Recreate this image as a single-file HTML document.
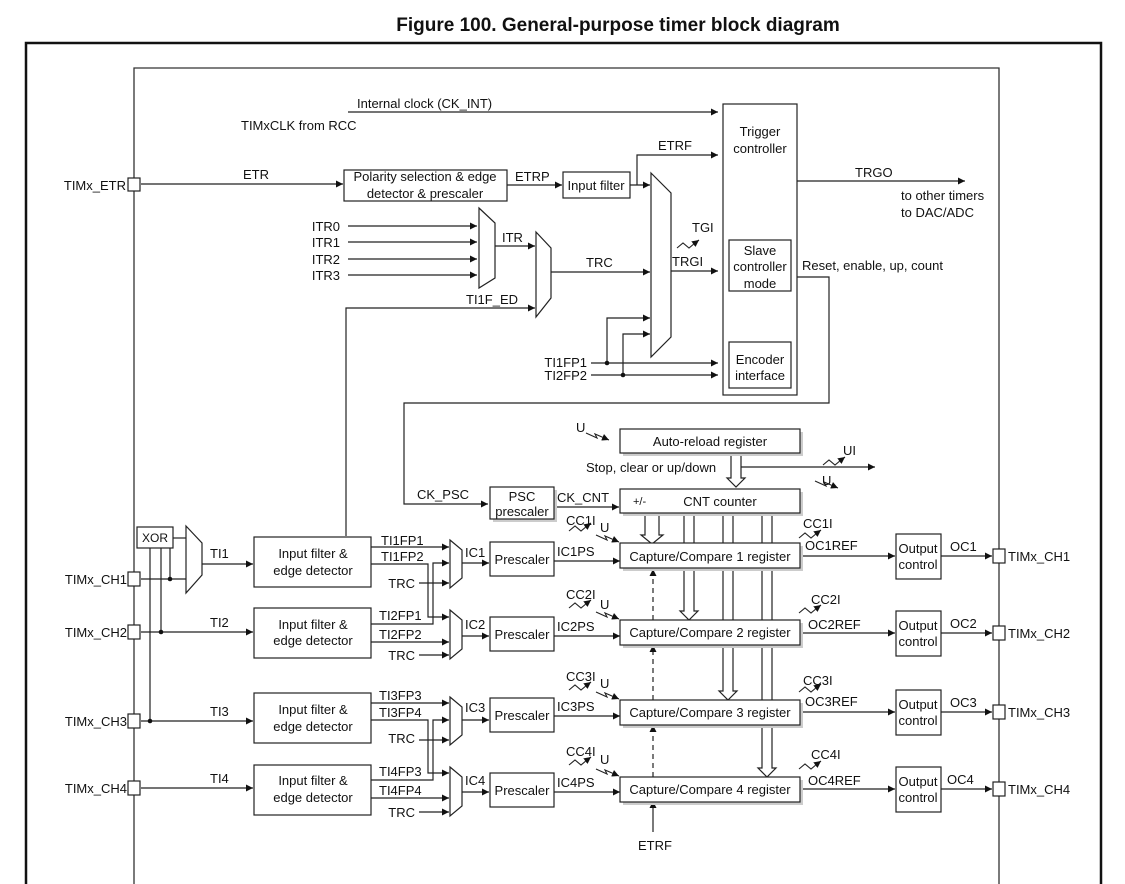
<!DOCTYPE html>
<html><head><meta charset="utf-8"><style>
html,body{margin:0;padding:0;background:#fff;}
svg{display:block;}
text{font-family:"Liberation Sans",Arial,sans-serif;font-size:13px;fill:#111;}
</style></head><body>
<svg width="1125" height="884" viewBox="0 0 1125 884" xmlns="http://www.w3.org/2000/svg">
<defs>
<marker id="a" viewBox="0 0 10 10" refX="10" refY="5" markerWidth="7" markerHeight="7" markerUnits="userSpaceOnUse" orient="auto"><path d="M0,0 L10,5 L0,10 z" fill="#111"/></marker>
</defs>
<text x="618" y="31" text-anchor="middle" style="font-size:19px;font-weight:bold">Figure 100. General-purpose timer block diagram</text>
<rect x="26" y="43" width="1075" height="860" fill="none" stroke="#111" stroke-width="2.5"/>
<g stroke="#333" stroke-width="1.3" fill="none">
<path d="M134 900 V68 H999 V900"/>
</g>
<g stroke="#222" stroke-width="1.2" fill="none">
<path d="M348 112 H718" marker-end="url(#a)"/>
<path d="M141 184 H343" marker-end="url(#a)"/>
<path d="M507 185 H562" marker-end="url(#a)"/>
<path d="M630 185 H650" marker-end="url(#a)"/>
<path d="M637 185 V155 H718" marker-end="url(#a)"/>
<path d="M348 226 H477" marker-end="url(#a)"/>
<path d="M348 242 H477" marker-end="url(#a)"/>
<path d="M348 259 H477" marker-end="url(#a)"/>
<path d="M348 275 H477" marker-end="url(#a)"/>
<path d="M495 246 H535" marker-end="url(#a)"/>
<path d="M346 536 V308 H535" marker-end="url(#a)"/>
<path d="M551 272 H650" marker-end="url(#a)"/>
<path d="M671 271 H718" marker-end="url(#a)"/>
<path d="M591 363 H718" marker-end="url(#a)"/>
<path d="M591 375 H718" marker-end="url(#a)"/>
<path d="M607 363 V318 H650" marker-end="url(#a)"/>
<path d="M623 375 V334 H650" marker-end="url(#a)"/>
<path d="M797 181 H965" marker-end="url(#a)"/>
<path d="M797 277 H829 V403 H404 V504 H488" marker-end="url(#a)"/>
<path d="M141 579 H186"/>
<path d="M170 579 V548"/>
<path d="M173 538 H186"/>
<path d="M161 548 V632"/>
<path d="M150 548 V721"/>
<path d="M202 564 H253" marker-end="url(#a)"/>
<path d="M141 632 H253" marker-end="url(#a)"/>
<path d="M141 721 H253" marker-end="url(#a)"/>
<path d="M141 788 H253" marker-end="url(#a)"/>
<path d="M371 547 H449" marker-end="url(#a)"/>
<path d="M371 564 H428 V617 H449" marker-end="url(#a)"/>
<path d="M371 624 H433 V563 H449" marker-end="url(#a)"/>
<path d="M419 583 H449" marker-end="url(#a)"/>
<path d="M371 642 H449" marker-end="url(#a)"/>
<path d="M419 655 H449" marker-end="url(#a)"/>
<path d="M371 703 H449" marker-end="url(#a)"/>
<path d="M371 720 H428 V773 H449" marker-end="url(#a)"/>
<path d="M371 780 H433 V720 H449" marker-end="url(#a)"/>
<path d="M419 740 H449" marker-end="url(#a)"/>
<path d="M371 798 H449" marker-end="url(#a)"/>
<path d="M419 812 H449" marker-end="url(#a)"/>
<path d="M462 563 H489" marker-end="url(#a)"/>
<path d="M462 636 H489" marker-end="url(#a)"/>
<path d="M462 720 H489" marker-end="url(#a)"/>
<path d="M462 792 H489" marker-end="url(#a)"/>
<path d="M554 561 H620" marker-end="url(#a)"/>
<path d="M554 636 H620" marker-end="url(#a)"/>
<path d="M554 716 H620" marker-end="url(#a)"/>
<path d="M554 792 H620" marker-end="url(#a)"/>
<path d="M554 507 H619" marker-end="url(#a)"/>
<path d="M741 467 H875" marker-end="url(#a)"/>
<path d="M800 556 H895" marker-end="url(#a)"/>
<path d="M800 633 H895" marker-end="url(#a)"/>
<path d="M800 712 H895" marker-end="url(#a)"/>
<path d="M800 789 H895" marker-end="url(#a)"/>
<path d="M941 556 H992" marker-end="url(#a)"/>
<path d="M941 633 H992" marker-end="url(#a)"/>
<path d="M941 712 H992" marker-end="url(#a)"/>
<path d="M941 789 H992" marker-end="url(#a)"/>
<path d="M653 832 V801" marker-end="url(#a)"/>
<path d="M653 777 V725" stroke-dasharray="5,4" marker-end="url(#a)"/>
<path d="M653 700 V645" stroke-dasharray="5,4" marker-end="url(#a)"/>
<path d="M653 620 V569" stroke-dasharray="5,4" marker-end="url(#a)"/>
</g>
<g fill="#111">
<circle cx="607" cy="363" r="2.3"/><circle cx="623" cy="375" r="2.3"/>
<circle cx="170" cy="579" r="2.3"/><circle cx="161" cy="632" r="2.3"/><circle cx="150" cy="721" r="2.3"/>
</g>
<g stroke="#222" stroke-width="1.2" fill="#fff">
<path d="M731 453 V478 H727 L736 487 L745 478 H741 V453"/>
<path d="M645 513 V535 H641 L652 544 L663 535 H659 V513"/>
<path d="M684 513 V611 H680 L689 620 L698 611 H694 V513"/>
<path d="M723 513 V691 H719 L728 700 L737 691 H733 V513"/>
<path d="M762 513 V768 H758 L767 777 L776 768 H772 V513"/>
</g>
<g stroke="#222" stroke-width="1.2" fill="#fff">
<rect x="128" y="178" width="12" height="13"/>
<rect x="128" y="572" width="12" height="14"/>
<rect x="128" y="625" width="12" height="14"/>
<rect x="128" y="714" width="12" height="14"/>
<rect x="128" y="781" width="12" height="14"/>
<rect x="993" y="549" width="12" height="14"/>
<rect x="993" y="626" width="12" height="14"/>
<rect x="993" y="705" width="12" height="14"/>
<rect x="993" y="782" width="12" height="14"/>
<rect x="344" y="170" width="163" height="31"/>
<rect x="563" y="172" width="67" height="26"/>
<rect x="723" y="104" width="74" height="291"/>
<rect x="729" y="240" width="62" height="51"/>
<rect x="729" y="342" width="62" height="46"/>
<polygon points="479,208 495,223 495,278 479,288"/>
<polygon points="536,232 551,248 551,298 536,317"/>
<polygon points="651,173 671,193 671,337 651,357"/>
<rect x="137" y="527" width="36" height="21"/>
<polygon points="186,526 202,543 202,575 186,593"/>
<rect x="254" y="537" width="117" height="50"/>
<rect x="254" y="608" width="117" height="50"/>
<rect x="254" y="693" width="117" height="50"/>
<rect x="254" y="765" width="117" height="50"/>
<polygon points="450,540 462,550 462,578 450,588"/>
<polygon points="450,610 462,620 462,649 450,659"/>
<polygon points="450,697 462,707 462,735 450,745"/>
<polygon points="450,767 462,777 462,806 450,816"/>
<rect x="490" y="542" width="64" height="34"/>
<rect x="490" y="617" width="64" height="34"/>
<rect x="490" y="698" width="64" height="34"/>
<rect x="490" y="773" width="64" height="34"/>
<rect x="896" y="534" width="45" height="45"/>
<rect x="896" y="611" width="45" height="45"/>
<rect x="896" y="690" width="45" height="45"/>
<rect x="896" y="767" width="45" height="45"/>
</g>
<g fill="#ccc">
<rect x="493" y="490" width="64" height="32"/>
<rect x="623" y="432" width="180" height="24"/>
<rect x="623" y="492" width="180" height="24"/>
<rect x="623" y="546" width="180" height="25"/>
<rect x="623" y="623" width="180" height="25"/>
<rect x="623" y="703" width="180" height="25"/>
<rect x="623" y="780" width="180" height="25"/>
</g>
<g stroke="#222" stroke-width="1.2" fill="#fff">
<rect x="490" y="487" width="64" height="32"/>
<rect x="620" y="429" width="180" height="24"/>
<rect x="620" y="489" width="180" height="24"/>
<rect x="620" y="543" width="180" height="25"/>
<rect x="620" y="620" width="180" height="25"/>
<rect x="620" y="700" width="180" height="25"/>
<rect x="620" y="777" width="180" height="25"/>
</g>
<g stroke="#222" stroke-width="1.1" fill="none">
<path d="M677 248 l6 -5 l6 5 l6 -5 l4 -3" marker-end="url(#a)"/>
<path d="M823 465 l6 -5 l6 5 l6 -5 l4 -3" marker-end="url(#a)"/>
<path d="M569 531 l6 -5 l6 5 l6 -5 l4 -3" marker-end="url(#a)"/>
<path d="M569 608 l6 -5 l6 5 l6 -5 l4 -3" marker-end="url(#a)"/>
<path d="M569 690 l6 -5 l6 5 l6 -5 l4 -3" marker-end="url(#a)"/>
<path d="M569 765 l6 -5 l6 5 l6 -5 l4 -3" marker-end="url(#a)"/>
<path d="M799 538 l6 -5 l6 5 l6 -5 l4 -3" marker-end="url(#a)"/>
<path d="M799 613 l6 -5 l6 5 l6 -5 l4 -3" marker-end="url(#a)"/>
<path d="M799 692 l6 -5 l6 5 l6 -5 l4 -3" marker-end="url(#a)"/>
<path d="M799 769 l6 -5 l6 5 l6 -5 l4 -3" marker-end="url(#a)"/>
<path d="M586 433 l11 5 l-2 -4 l14 6" marker-end="url(#a)"/>
<path d="M815 481 l11 5 l-2 -4 l14 6" marker-end="url(#a)"/>
<path d="M596 535 l11 5 l-2 -4 l14 6" marker-end="url(#a)"/>
<path d="M596 612 l11 5 l-2 -4 l14 6" marker-end="url(#a)"/>
<path d="M596 692 l11 5 l-2 -4 l14 6" marker-end="url(#a)"/>
<path d="M596 769 l11 5 l-2 -4 l14 6" marker-end="url(#a)"/>
</g>
<text x="357" y="108">Internal clock (CK_INT)</text>
<text x="241" y="130">TIMxCLK from RCC</text>
<text x="126" y="190" text-anchor="end">TIMx_ETR</text>
<text x="243" y="179">ETR</text>
<text x="425" y="181" text-anchor="middle">Polarity selection &amp; edge</text>
<text x="425" y="198" text-anchor="middle">detector &amp; prescaler</text>
<text x="515" y="181">ETRP</text>
<text x="596" y="190" text-anchor="middle">Input filter</text>
<text x="658" y="150">ETRF</text>
<text x="760" y="136" text-anchor="middle">Trigger</text>
<text x="760" y="153" text-anchor="middle">controller</text>
<text x="760" y="255" text-anchor="middle">Slave</text>
<text x="760" y="271" text-anchor="middle">controller</text>
<text x="760" y="288" text-anchor="middle">mode</text>
<text x="760" y="364" text-anchor="middle">Encoder</text>
<text x="760" y="380" text-anchor="middle">interface</text>
<text x="855" y="177">TRGO</text>
<text x="901" y="200">to other timers</text>
<text x="901" y="217">to DAC/ADC</text>
<text x="802" y="270">Reset, enable, up, count</text>
<text x="692" y="232">TGI</text>
<text x="672" y="266">TRGI</text>
<text x="586" y="267">TRC</text>
<text x="340" y="231" text-anchor="end">ITR0</text>
<text x="340" y="247" text-anchor="end">ITR1</text>
<text x="340" y="264" text-anchor="end">ITR2</text>
<text x="340" y="280" text-anchor="end">ITR3</text>
<text x="502" y="242">ITR</text>
<text x="466" y="304">TI1F_ED</text>
<text x="587" y="367" text-anchor="end">TI1FP1</text>
<text x="587" y="380" text-anchor="end">TI2FP2</text>
<text x="417" y="499">CK_PSC</text>
<text x="522" y="501" text-anchor="middle">PSC</text>
<text x="522" y="516" text-anchor="middle">prescaler</text>
<text x="557" y="502">CK_CNT</text>
<text x="576" y="432">U</text>
<text x="710" y="446" text-anchor="middle">Auto-reload register</text>
<text x="586" y="472">Stop, clear or up/down</text>
<text x="843" y="455">UI</text>
<text x="822" y="485">U</text>
<text x="633" y="505" style="font-size:11px">+/-</text>
<text x="720" y="506" text-anchor="middle">CNT counter</text>
<text x="155" y="542" text-anchor="middle" style="font-size:12px">XOR</text>
<text x="210" y="558">TI1</text>
<text x="210" y="627">TI2</text>
<text x="210" y="716">TI3</text>
<text x="210" y="783">TI4</text>
<text x="127" y="584" text-anchor="end">TIMx_CH1</text>
<text x="127" y="637" text-anchor="end">TIMx_CH2</text>
<text x="127" y="726" text-anchor="end">TIMx_CH3</text>
<text x="127" y="793" text-anchor="end">TIMx_CH4</text>
<g text-anchor="middle">
<text x="313" y="558">Input filter &amp;</text><text x="313" y="575">edge detector</text>
<text x="313" y="629">Input filter &amp;</text><text x="313" y="645">edge detector</text>
<text x="313" y="714">Input filter &amp;</text><text x="313" y="731">edge detector</text>
<text x="313" y="785">Input filter &amp;</text><text x="313" y="802">edge detector</text>
<text x="522" y="564">Prescaler</text>
<text x="522" y="639">Prescaler</text>
<text x="522" y="720">Prescaler</text>
<text x="522" y="795">Prescaler</text>
<text x="710" y="561">Capture/Compare 1 register</text>
<text x="710" y="637">Capture/Compare 2 register</text>
<text x="710" y="717">Capture/Compare 3 register</text>
<text x="710" y="794">Capture/Compare 4 register</text>
<text x="918" y="553">Output</text><text x="918" y="569">control</text>
<text x="918" y="630">Output</text><text x="918" y="646">control</text>
<text x="918" y="709">Output</text><text x="918" y="725">control</text>
<text x="918" y="786">Output</text><text x="918" y="802">control</text>
<text x="655" y="850">ETRF</text>
</g>
<text x="381" y="545">TI1FP1</text>
<text x="381" y="561">TI1FP2</text>
<text x="415" y="588" text-anchor="end">TRC</text>
<text x="379" y="620">TI2FP1</text>
<text x="379" y="639">TI2FP2</text>
<text x="415" y="660" text-anchor="end">TRC</text>
<text x="379" y="700">TI3FP3</text>
<text x="379" y="717">TI3FP4</text>
<text x="415" y="743" text-anchor="end">TRC</text>
<text x="379" y="776">TI4FP3</text>
<text x="379" y="795">TI4FP4</text>
<text x="415" y="817" text-anchor="end">TRC</text>
<text x="465" y="557">IC1</text>
<text x="465" y="629">IC2</text>
<text x="465" y="712">IC3</text>
<text x="465" y="785">IC4</text>
<text x="557" y="556">IC1PS</text>
<text x="557" y="631">IC2PS</text>
<text x="557" y="711">IC3PS</text>
<text x="557" y="787">IC4PS</text>
<text x="566" y="525">CC1I</text>
<text x="566" y="599">CC2I</text>
<text x="566" y="681">CC3I</text>
<text x="566" y="756">CC4I</text>
<text x="600" y="532">U</text>
<text x="600" y="609">U</text>
<text x="600" y="688">U</text>
<text x="600" y="764">U</text>
<text x="803" y="528">CC1I</text>
<text x="811" y="604">CC2I</text>
<text x="803" y="685">CC3I</text>
<text x="811" y="759">CC4I</text>
<text x="805" y="550">OC1REF</text>
<text x="808" y="629">OC2REF</text>
<text x="805" y="706">OC3REF</text>
<text x="808" y="785">OC4REF</text>
<text x="950" y="551">OC1</text>
<text x="950" y="628">OC2</text>
<text x="950" y="707">OC3</text>
<text x="947" y="784">OC4</text>
<text x="1008" y="561">TIMx_CH1</text>
<text x="1008" y="638">TIMx_CH2</text>
<text x="1008" y="717">TIMx_CH3</text>
<text x="1008" y="794">TIMx_CH4</text>
</svg>
</body></html>
